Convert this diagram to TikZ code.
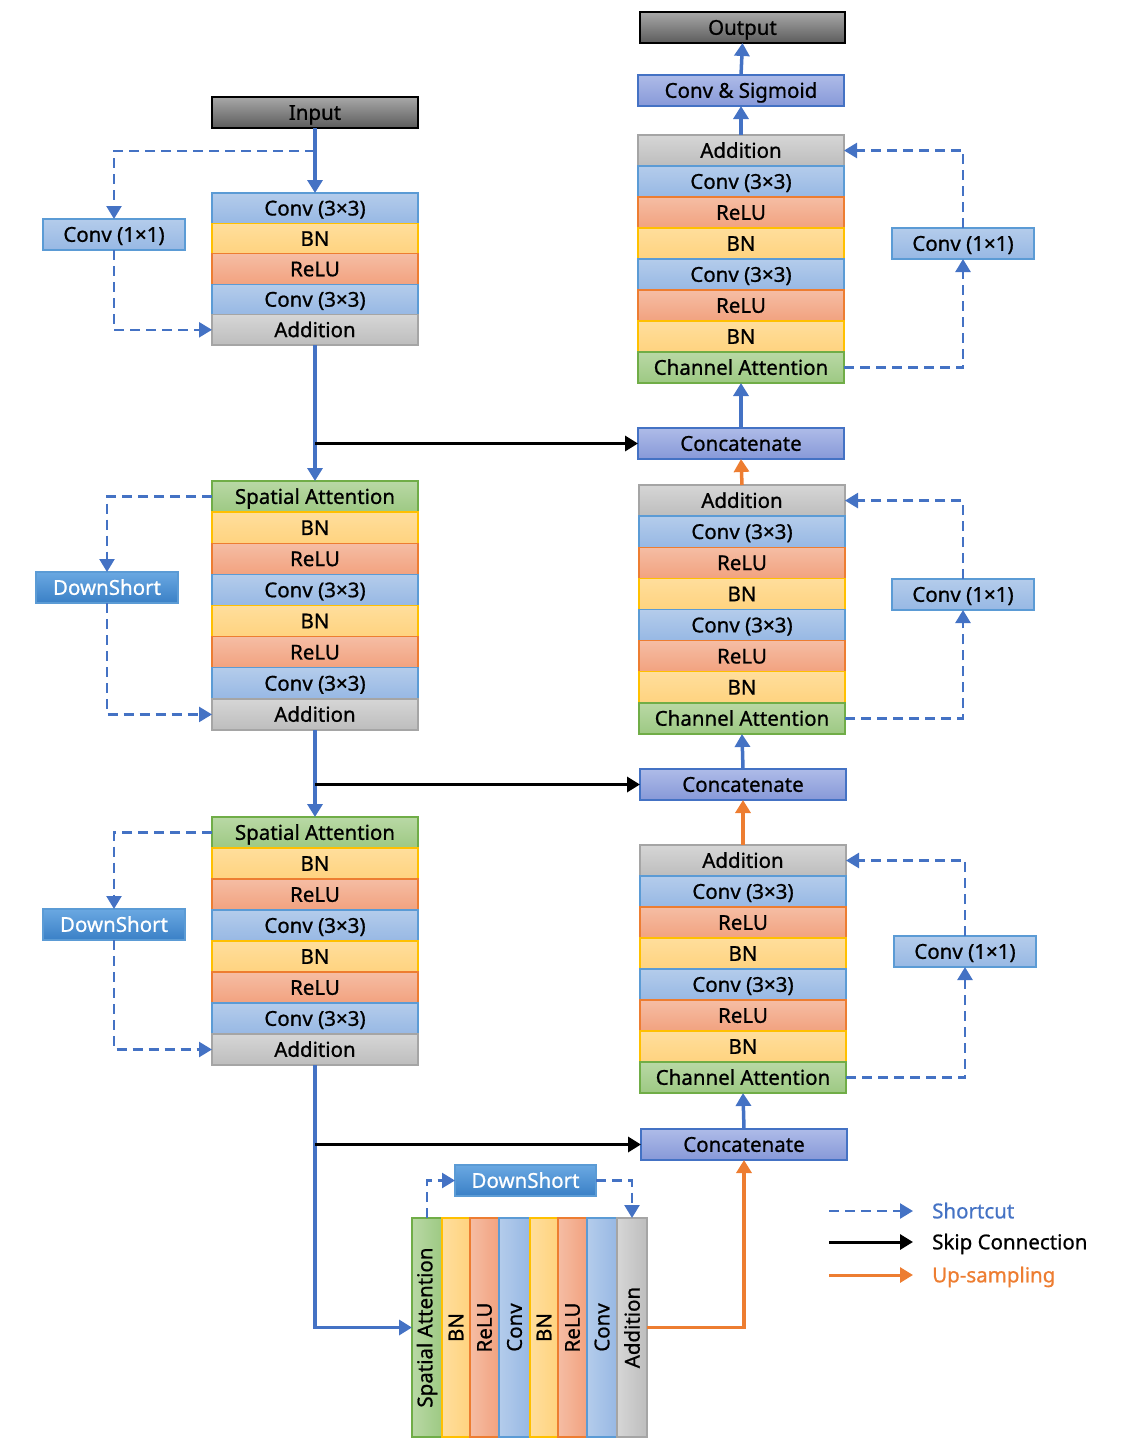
\documentclass[tikz,border=0pt]{standalone}
\usepackage{fontspec}
\usepackage{graphicx}
\setmainfont{Noto Sans}[FakeBold=0.8]
\usetikzlibrary{arrows.meta,calc}
\definecolor{mblue}{HTML}{4472C4}
\definecolor{morange}{HTML}{ED7D31}
\definecolor{convT}{HTML}{B4CCEB}\definecolor{convB}{HTML}{97B8E4}\definecolor{convD}{HTML}{5B9BD5}
\definecolor{bnT}{HTML}{FFDE9C}\definecolor{bnB}{HTML}{FFD37F}\definecolor{bnD}{HTML}{FFC000}
\definecolor{reT}{HTML}{F5BDA4}\definecolor{reB}{HTML}{F2A27F}\definecolor{reD}{HTML}{ED7D31}
\definecolor{adT}{HTML}{D6D6D6}\definecolor{adB}{HTML}{BDBDBD}\definecolor{adD}{HTML}{A5A5A5}
\definecolor{atT}{HTML}{B9D8A5}\definecolor{atB}{HTML}{9DC983}\definecolor{atD}{HTML}{70AD47}
\definecolor{dsT}{HTML}{6AA8E2}\definecolor{dsB}{HTML}{3A80C6}\definecolor{dsD}{HTML}{5B9BD5}
\definecolor{caT}{HTML}{AEBBE8}\definecolor{caB}{HTML}{8799D8}
\definecolor{ioT}{HTML}{A8A8A8}\definecolor{ioB}{HTML}{5C5C5C}
\newcommand\fs{\fontsize{20.5}{24}\selectfont\bfseries}
\tikzset{
  box/.style={inner sep=0pt, outer sep=0pt, line width=1.3pt, font=\fs, text=black},
  hbox/.style={text height=14.6pt, text depth=0pt},
  convbox/.style={box, draw=convD, top color=convT, bottom color=convB},
  bnbox/.style={box, draw=bnD, top color=bnT, bottom color=bnB},
  relubox/.style={box, draw=reD, top color=reT, bottom color=reB},
  addbox/.style={box, draw=adD, top color=adT, bottom color=adB},
  attbox/.style={box, draw=atD, top color=atT, bottom color=atB},
  dsbox/.style={box, draw=dsD, top color=dsT, bottom color=dsB, text=white},
  catbox/.style={box, draw=mblue, top color=caT, bottom color=caB},
  iobox/.style={box, draw=black, top color=ioT, bottom color=ioB},
  vconvbox/.style={box, draw=convD, left color=convT, right color=convB},
  vbnbox/.style={box, draw=bnD, left color=bnT, right color=bnB},
  vrelubox/.style={box, draw=reD, left color=reT, right color=reB},
  vaddbox/.style={box, draw=adD, left color=adT, right color=adB},
  vattbox/.style={box, draw=atD, left color=atT, right color=atB},
  tip/.style={-{Triangle[width=15pt,length=13pt]}},
  mainarrow/.style={draw=mblue, line width=3.5pt, tip},
  shortcut/.style={draw=mblue, line width=2.5pt, dash pattern=on 10pt off 6pt, tip},
  skiparrow/.style={draw=black, line width=3.5pt, tip},
  uparrow/.style={draw=morange, line width=3.5pt, tip},
}
% name, style, x, y0, index, rowheight, text
\newcommand\rowbox[7]{\node[#2, hbox, minimum width=206, minimum height=#6, anchor=north west] (#1) at (#3,{#4+#5*#6}) {#7};}
\newcommand\plainbox[7]{\node[#2, hbox, minimum width=#5, minimum height=#6, anchor=north west] (#1) at (#3,#4) {#7};}
\newcommand\colbox[5]{\node[#2, minimum width=#4, minimum height=219, anchor=north west] (#1) at (#3,1218) {\rotatebox{90}{#5}};}
\begin{document}
\begin{tikzpicture}[x=1pt,y=-1pt]
\useasboundingbox (0,0) rectangle (1120,1440);

% ---------- left column ----------
\plainbox{input}{iobox}{212}{97}{206}{31}{Input}
\rowbox{a1}{convbox}{212}{193}{0}{30.4}{Conv (3×3)}
\rowbox{a2}{bnbox}{212}{193}{1}{30.4}{BN}
\rowbox{a3}{relubox}{212}{193}{2}{30.4}{ReLU}
\rowbox{a4}{convbox}{212}{193}{3}{30.4}{Conv (3×3)}
\rowbox{a5}{addbox}{212}{193}{4}{30.4}{Addition}
\plainbox{ca}{convbox}{43}{219}{142}{31}{Conv (1×1)}

\rowbox{b1}{attbox}{212}{481}{0}{31.125}{Spatial Attention}
\rowbox{b2}{bnbox}{212}{481}{1}{31.125}{BN}
\rowbox{b3}{relubox}{212}{481}{2}{31.125}{ReLU}
\rowbox{b4}{convbox}{212}{481}{3}{31.125}{Conv (3×3)}
\rowbox{b5}{bnbox}{212}{481}{4}{31.125}{BN}
\rowbox{b6}{relubox}{212}{481}{5}{31.125}{ReLU}
\rowbox{b7}{convbox}{212}{481}{6}{31.125}{Conv (3×3)}
\rowbox{b8}{addbox}{212}{481}{7}{31.125}{Addition}
\plainbox{dsb}{dsbox}{36}{572}{142}{31}{DownShort}

\rowbox{c1}{attbox}{212}{817}{0}{31}{Spatial Attention}
\rowbox{c2}{bnbox}{212}{817}{1}{31}{BN}
\rowbox{c3}{relubox}{212}{817}{2}{31}{ReLU}
\rowbox{c4}{convbox}{212}{817}{3}{31}{Conv (3×3)}
\rowbox{c5}{bnbox}{212}{817}{4}{31}{BN}
\rowbox{c6}{relubox}{212}{817}{5}{31}{ReLU}
\rowbox{c7}{convbox}{212}{817}{6}{31}{Conv (3×3)}
\rowbox{c8}{addbox}{212}{817}{7}{31}{Addition}
\plainbox{dsc}{dsbox}{43}{909}{142}{31}{DownShort}

% ---------- bottom block ----------
\colbox{d1}{vattbox}{412}{30}{Spatial Attention}
\colbox{d2}{vbnbox}{442}{28}{BN}
\colbox{d3}{vrelubox}{470}{29}{ReLU}
\colbox{d4}{vconvbox}{499}{31}{Conv}
\colbox{d5}{vbnbox}{530}{28}{BN}
\colbox{d6}{vrelubox}{558}{29}{ReLU}
\colbox{d7}{vconvbox}{587}{30}{Conv}
\colbox{d8}{vaddbox}{617}{30}{Addition}
\plainbox{dsd}{dsbox}{455}{1165}{141}{31}{DownShort}

% ---------- right column ----------
\plainbox{output}{iobox}{640}{12}{205}{31}{Output}
\plainbox{sig}{catbox}{638}{75}{206}{31}{Conv \& Sigmoid}

\rowbox{r1}{addbox}{638}{135}{0}{31}{Addition}
\rowbox{r2}{convbox}{638}{135}{1}{31}{Conv (3×3)}
\rowbox{r3}{relubox}{638}{135}{2}{31}{ReLU}
\rowbox{r4}{bnbox}{638}{135}{3}{31}{BN}
\rowbox{r5}{convbox}{638}{135}{4}{31}{Conv (3×3)}
\rowbox{r6}{relubox}{638}{135}{5}{31}{ReLU}
\rowbox{r7}{bnbox}{638}{135}{6}{31}{BN}
\rowbox{r8}{attbox}{638}{135}{7}{31}{Channel Attention}
\plainbox{cr}{convbox}{892}{228}{142}{31}{Conv (1×1)}
\plainbox{cat1}{catbox}{638}{428}{206}{31}{Concatenate}

\rowbox{s1}{addbox}{639}{485}{0}{31.125}{Addition}
\rowbox{s2}{convbox}{639}{485}{1}{31.125}{Conv (3×3)}
\rowbox{s3}{relubox}{639}{485}{2}{31.125}{ReLU}
\rowbox{s4}{bnbox}{639}{485}{3}{31.125}{BN}
\rowbox{s5}{convbox}{639}{485}{4}{31.125}{Conv (3×3)}
\rowbox{s6}{relubox}{639}{485}{5}{31.125}{ReLU}
\rowbox{s7}{bnbox}{639}{485}{6}{31.125}{BN}
\rowbox{s8}{attbox}{639}{485}{7}{31.125}{Channel Attention}
\plainbox{cs}{convbox}{892}{579}{142}{31}{Conv (1×1)}
\plainbox{cat2}{catbox}{640}{769}{206}{31}{Concatenate}

\rowbox{t1}{addbox}{640}{845}{0}{31}{Addition}
\rowbox{t2}{convbox}{640}{845}{1}{31}{Conv (3×3)}
\rowbox{t3}{relubox}{640}{845}{2}{31}{ReLU}
\rowbox{t4}{bnbox}{640}{845}{3}{31}{BN}
\rowbox{t5}{convbox}{640}{845}{4}{31}{Conv (3×3)}
\rowbox{t6}{relubox}{640}{845}{5}{31}{ReLU}
\rowbox{t7}{bnbox}{640}{845}{6}{31}{BN}
\rowbox{t8}{attbox}{640}{845}{7}{31}{Channel Attention}
\plainbox{ct}{convbox}{894}{936}{142}{31}{Conv (1×1)}
\plainbox{cat3}{catbox}{641}{1129}{206}{31}{Concatenate}

% ---------- main path ----------
\draw[mainarrow] (input.south) -- (a1.north);
\draw[mainarrow] (a5.south) -- (b1.north);
\draw[mainarrow] (b8.south) -- (c1.north);
\draw[mainarrow] (c8.south) |- (d1.west);

% skip connections
\draw[skiparrow] (a5.south |- cat1.west) -- (cat1.west);
\draw[skiparrow] (b8.south |- cat2.west) -- (cat2.west);
\draw[skiparrow] (c8.south |- cat3.west) -- (cat3.west);

% decoder path
\draw[uparrow] (d8.east) -| (cat3.south);
\draw[mainarrow] (cat3.north) -- (t8.south);
\draw[uparrow] (t1.north) -- (cat2.south);
\draw[mainarrow] (cat2.north) -- (s8.south);
\draw[uparrow] (s1.north) -- (cat1.south);
\draw[mainarrow] (cat1.north) -- (r8.south);
\draw[mainarrow] (r1.north) -- (sig.south);
\draw[mainarrow] (sig.north) -- (output.south);

% shortcuts left
\coordinate (j1) at (315,151);
\draw[shortcut] (j1) -| (ca.north);
\draw[shortcut] (ca.south) |- (a5.west);
\draw[shortcut] (b1.west) -| (dsb.north);
\draw[shortcut] (dsb.south) |- (b8.west);
\draw[shortcut] (c1.west) -| (dsc.north);
\draw[shortcut] (dsc.south) |- (c8.west);
\draw[shortcut] (d1.north) |- (dsd.west);
\draw[shortcut] (dsd.east) -| (d8.north);

% shortcuts right
\draw[shortcut] (r8.east) -| (cr.south);
\draw[shortcut] (cr.north) |- (r1.east);
\draw[shortcut] (s8.east) -| (cs.south);
\draw[shortcut] (cs.north) |- (s1.east);
\draw[shortcut] (t8.east) -| (ct.south);
\draw[shortcut] (ct.north) |- (t1.east);

% legend
\coordinate (la) at (829,1211); \coordinate (lb) at (913,1211);
\coordinate (lc) at (829,1242); \coordinate (ld) at (913,1242);
\coordinate (le) at (829,1275); \coordinate (lf) at (913,1275);
\draw[shortcut] (la) -- (lb);
\draw[skiparrow, line width=3pt] (lc) -- (ld);
\draw[uparrow, line width=3pt] (le) -- (lf);
\node[anchor=west, font=\fs, hbox, text=mblue, inner sep=0pt] (lt1) at (932,1211) {Shortcut};
\node[anchor=west, font=\fs, hbox, text=black, inner sep=0pt] (lt2) at (932,1242) {Skip Connection};
\node[anchor=west, font=\fs, hbox, text=morange, inner sep=0pt] (lt3) at (932,1275) {Up-sampling};
\end{tikzpicture}
\end{document}
